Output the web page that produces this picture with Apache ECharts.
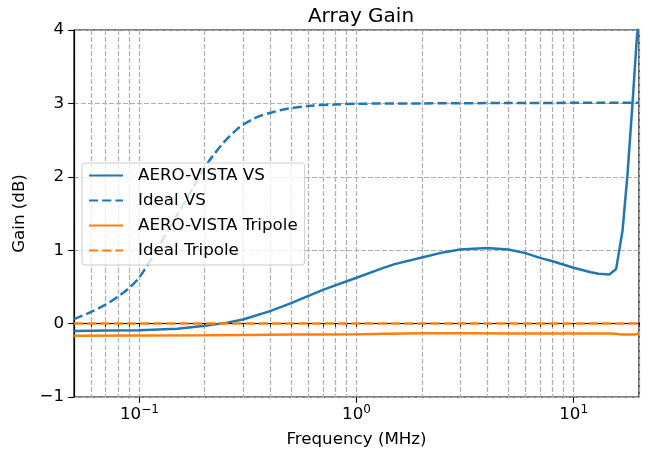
<!DOCTYPE html>
<html>
<head>
<meta charset="utf-8">
<script src="https://cdn.jsdelivr.net/npm/echarts@6/dist/echarts.min.js"></script>
<style>
  html, body { margin: 0; padding: 0; background: #fff; }
  #chart { width: 651px; height: 455px; }
</style>
</head>
<body>
<div id="chart"></div>
<script>
// frequencies in MHz, gains in dB
const aeroVsFreq = [0.05, 0.07, 0.1, 0.15, 0.2, 0.25, 0.3, 0.4, 0.5, 0.7, 1.0, 1.33, 1.5, 2.0, 2.5, 3.0, 4.0, 5.0, 6.0, 7.0, 8.0, 10, 12, 13, 14.6, 15.7, 16.8, 17.7, 18.7, 19.5, 20]
const aeroVsGain = [-0.10, -0.095, -0.09, -0.07, -0.03, 0.01, 0.055, 0.17, 0.28, 0.46, 0.625, 0.76, 0.81, 0.90, 0.97, 1.01, 1.03, 1.01, 0.96, 0.895, 0.85, 0.76, 0.70, 0.68, 0.67, 0.745, 1.27, 2.03, 3.03, 3.85, 4.2]

const idealVsFreq = [0.05, 0.06, 0.07, 0.08, 0.09, 0.1, 0.12, 0.14, 0.16, 0.18, 0.2, 0.22, 0.24, 0.26, 0.28, 0.3, 0.33, 0.36, 0.4, 0.45, 0.5, 0.6, 0.8, 1, 2, 5, 20]
const idealVsGain = [0.06, 0.16, 0.26, 0.37, 0.49, 0.63, 1.0, 1.34, 1.63, 1.89, 2.13, 2.30, 2.44, 2.55, 2.64, 2.71, 2.78, 2.83, 2.87, 2.91, 2.935, 2.965, 2.985, 2.995, 3.0, 3.005, 3.01]

const aeroTriFreq = [0.05, 0.2, 0.5, 1, 2, 5, 10, 15, 17, 19, 20]
const aeroTriGain = [-0.165, -0.16, -0.15, -0.145, -0.13, -0.135, -0.135, -0.135, -0.15, -0.15, -0.13]

const idealTriFreq = [0.05, 20]
const idealTriGain = [0, 0]

const seriesNames = ['AERO-VISTA VS', 'Ideal VS', 'AERO-VISTA Tripole', 'Ideal Tripole']

const majorTicks = [0.1, 1, 10]
const allTicks = [0.05, 0.06, 0.07, 0.08, 0.09, 0.1, 0.2, 0.3, 0.4, 0.5, 0.6, 0.7, 0.8, 0.9, 1,
    2, 3, 4, 5, 6, 7, 8, 9, 10, 20]
const yTicks = [-1, 0, 1, 2, 3, 4]

const FONT = 'DejaVu Sans'
const FS = 16.7
const BLUE = '#1f77b4'
const ORANGE = '#ff7f0e'
const GRID = '#b0b0b0'
const LW = 2.5
const DASH = [9.2, 4]
const GRID_DASH = [4.9, 2.1]

const pairs = (xs, ys) => xs.map((x, i) => [x, ys[i]])

const supers = { '-1': '\u22121', '0': '0', '1': '1' }

const options = {
    animation: false,
    title: {
        text: 'Array Gain',
        left: 356,
        textAlign: 'center',
        top: 2,
        textStyle: { fontFamily: FONT, fontSize: 20, fontWeight: 'normal', color: '#000' }
    },
    grid: {
        left: 74, right: 12, top: 30, bottom: 58,
        show: true, borderColor: '#000', borderWidth: 1.2, backgroundColor: 'transparent'
    },
    legend: {
        orient: 'vertical',
        left: 82,
        top: 163,
        data: seriesNames,
        itemWidth: 34,
        itemHeight: 17,
        itemGap: 8,
        padding: [4, 7, 6, 6],
        backgroundColor: 'rgba(255,255,255,0.8)',
        borderColor: '#cccccc',
        borderWidth: 1,
        borderRadius: 3,
        itemStyle: { opacity: 0 },
        textStyle: { fontFamily: FONT, fontSize: FS, color: '#000', lineHeight: 17, padding: [0, 0, 0, 10] }
    },
    xAxis: [
        {
            type: 'log',
            logBase: 10,
            min: 0.05,
            max: 20,
            axisLine: { show: true, lineStyle: { color: '#000', width: 1.2 } },
            axisTick: { show: true, inside: false, length: 3.3, customValues: allTicks, lineStyle: { color: '#000', width: 0.8 } },
            axisLabel: { show: false },
            splitLine: { show: true, lineStyle: { color: GRID, width: 1.2, type: GRID_DASH } },
            minorTick: { show: false },
            minorSplitLine: { show: false }
        },
        {
            type: 'log',
            logBase: 10,
            min: 0.05,
            max: 20,
            position: 'bottom',
            name: 'Frequency (MHz)',
            nameLocation: 'middle',
            nameGap: 34,
            nameTextStyle: { fontFamily: FONT, fontSize: FS, color: '#000' },
            axisLine: { show: false },
            axisTick: { show: true, inside: false, length: 5.8, customValues: majorTicks, lineStyle: { color: '#000', width: 1.1 } },
            axisLabel: {
                show: true,
                customValues: majorTicks,
                margin: 7,
                fontFamily: FONT,
                color: '#000',
                formatter: function (v) {
                    const p = Math.round(Math.log10(v))
                    return '{b|10}{s|' + supers[String(p)] + '}'
                },
                rich: {
                    b: { fontFamily: FONT, fontSize: FS, color: '#000' },
                    s: { fontFamily: FONT, fontSize: 12, color: '#000', padding: [0, 0, 10, 0] }
                }
            },
            splitLine: { show: false }
        }
    ],
    yAxis: {
        type: 'value',
        min: -1,
        max: 4,
        interval: 1,
        name: 'Gain (dB)',
        nameLocation: 'middle',
        nameGap: 43,
        nameTextStyle: { fontFamily: FONT, fontSize: FS, color: '#000' },
        axisLine: { show: true, lineStyle: { color: '#000', width: 1.2 } },
        axisTick: { show: true, inside: false, length: 5.8, lineStyle: { color: '#000', width: 1.1 } },
        axisLabel: {
            margin: 10,
            fontFamily: FONT,
            fontSize: FS,
            color: '#000',
            formatter: function (v) { return v < 0 ? '\u2212' + (-v) : String(v) }
        },
        splitLine: { show: true, lineStyle: { color: GRID, width: 1.2, type: GRID_DASH } }
    },
    series: [
        {
            name: seriesNames[0], type: 'line', xAxisIndex: 0, symbol: 'none', smooth: false,
            data: pairs(aeroVsFreq, aeroVsGain),
            itemStyle: { color: BLUE },
            lineStyle: { color: BLUE, width: LW }
        },
        {
            name: seriesNames[1], type: 'line', xAxisIndex: 0, symbol: 'none', smooth: 0.3,
            data: pairs(idealVsFreq, idealVsGain),
            itemStyle: { color: BLUE },
            lineStyle: { color: BLUE, width: LW, type: DASH }
        },
        {
            name: seriesNames[2], type: 'line', xAxisIndex: 0, symbol: 'none', smooth: 0.3,
            data: pairs(aeroTriFreq, aeroTriGain),
            itemStyle: { color: ORANGE },
            lineStyle: { color: ORANGE, width: LW }
        },
        {
            name: seriesNames[3], type: 'line', xAxisIndex: 0, symbol: 'none',
            data: pairs(idealTriFreq, idealTriGain),
            itemStyle: { color: ORANGE },
            lineStyle: { color: ORANGE, width: LW, type: DASH }
        }
    ]
}

const chart = echarts.init(document.getElementById('chart'), null, { renderer: 'canvas' })
chart.setOption(options)
window.addEventListener('resize', function () {
    chart && chart.resize()
})
</script>
</body>
</html>
